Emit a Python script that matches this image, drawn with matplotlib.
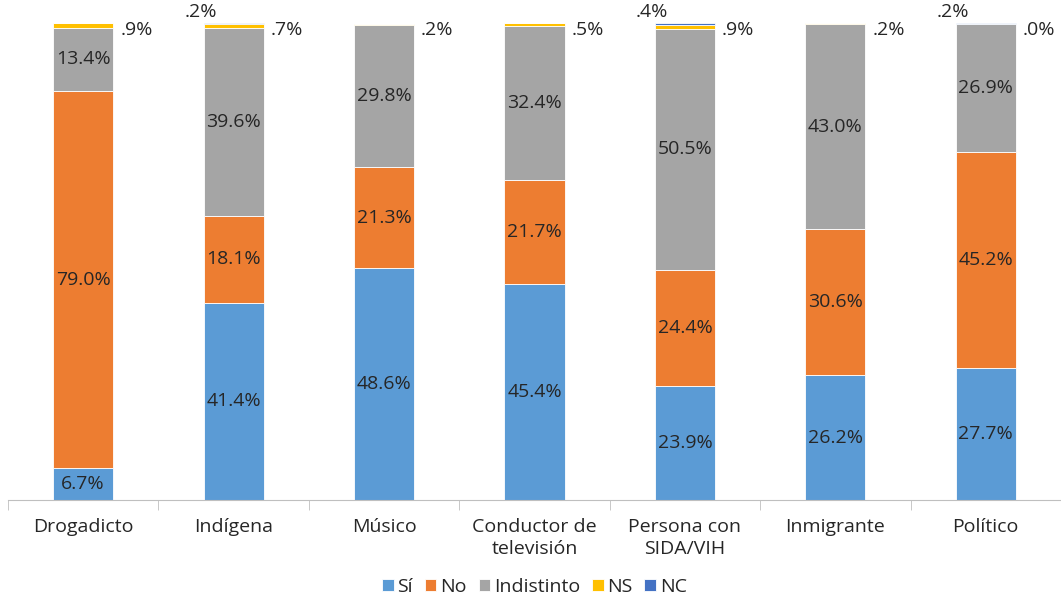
import matplotlib
matplotlib.use("Agg")
import matplotlib.pyplot as plt
import numpy as np

categories = ["Drogadicto", "Indígena", "Músico", "Conductor de\ntelevisión",
              "Persona con\nSIDA/VIH", "Inmigrante", "Político"]
si = [6.7, 41.4, 48.6, 45.4, 23.9, 26.2, 27.7]
no = [79.0, 18.1, 21.3, 21.7, 24.4, 30.6, 45.2]
indistinto = [13.4, 39.6, 29.8, 32.4, 50.5, 43.0, 26.9]
ns = [0.9, 0.7, 0.2, 0.5, 0.9, 0.2, 0.0]
nc = [0.0, 0.2, 0.0, 0.0, 0.4, 0.0, 0.2]

series = [("Sí", si, "#5B9BD5"), ("No", no, "#ED7D31"),
          ("Indistinto", indistinto, "#A5A5A5"), ("NS", ns, "#FFC000"),
          ("NC", nc, "#4472C4")]

plt.rcParams["font.family"] = ["Open Sans", "DejaVu Sans"]
FS = 14
TXT = "#262626"

fig = plt.figure(figsize=(10.61, 5.96), dpi=100)
ax = fig.add_axes([0.0075, 0.161, 0.9925, 0.8])

x = np.arange(len(categories))
w = 0.4
bottom = np.zeros(len(categories))
for name, vals, col in series:
    vals = np.array(vals)
    ax.bar(x, vals, w, bottom=bottom, color=col, edgecolor="white",
           linewidth=0.6, label=name)
    if name in ("Sí", "No", "Indistinto"):
        for i, v in enumerate(vals):
            ax.text(x[i], bottom[i] + v / 2, f"{v:.1f}%", ha="center",
                    va="center", fontsize=FS, color=TXT)
    bottom += vals

# small labels for NS (right of bar) and NC (above left)
for i in range(len(categories)):
    ax.annotate(f"{ns[i]:.1f}%".lstrip("0"), (x[i] + w / 2, 100),
                xytext=(5, -5), textcoords="offset points", ha="left",
                va="center", fontsize=FS, color=TXT, annotation_clip=False)
    if nc[i] > 0:
        ax.annotate(f"{nc[i]:.1f}%".lstrip("0"), (x[i] - w / 2, 100),
                    xytext=(-2, 8), textcoords="offset points", ha="center",
                    va="center", fontsize=FS, color=TXT,
                    annotation_clip=False)

ax.set_xlim(-0.5, len(categories) - 0.5)
ax.set_ylim(0, 100)
ax.set_yticks([])
for s in ("top", "right", "left"):
    ax.spines[s].set_visible(False)
ax.spines["bottom"].set_color("#BFBFBF")
ax.set_xticks(x)
ax.set_xticklabels(categories, fontsize=FS, color=TXT, linespacing=1.25)
ax.tick_params(axis="x", length=0, pad=13)
ax.set_xticks(np.arange(-0.5, len(categories) + 0.5, 1), minor=True)
ax.tick_params(axis="x", which="minor", length=7, color="#BFBFBF")

ax.legend(loc="upper center", bbox_to_anchor=(0.5, -0.127), ncol=5,
          frameon=False, fontsize=FS, handlelength=0.6, handleheight=0.6,
          handletextpad=0.2, columnspacing=0.6, labelcolor=TXT)

fig.savefig("out.png", dpi=100)
